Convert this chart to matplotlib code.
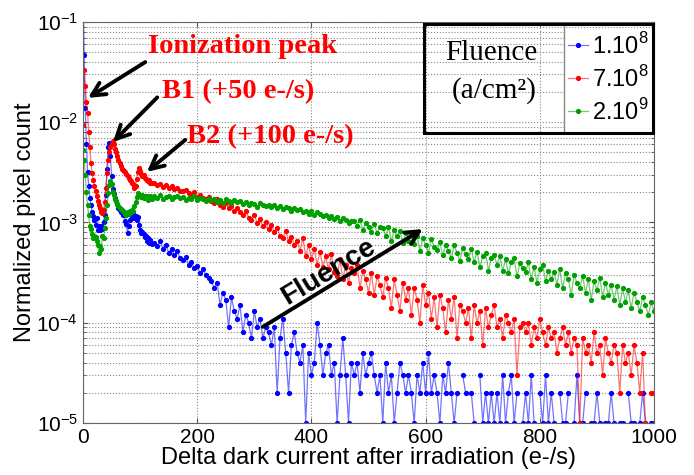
import numpy as np
import matplotlib
matplotlib.use('Agg')
from matplotlib import pyplot as plt
from matplotlib.patches import Rectangle

plt.rcParams['font.family'] = ['Liberation Sans', 'DejaVu Sans']
plt.rcParams['mathtext.fontset'] = 'custom'
plt.rcParams['mathtext.rm'] = 'Liberation Sans'

# counts are given per 1e5 pixels
SCALE = 1e-5

x_fine = np.arange(0, 121, 2)
x_coarse = np.arange(125, 1001, 5)
delta_dc = np.concatenate([x_fine, x_coarse])

labels = ['1.10$^8$', '7.10$^8$', '2.10$^9$']
colors = ['#0000ff', '#ff0000', '#00a000']

blue_fine = [
    20000, 4700, 1400, 600, 320, 230, 175, 150, 128, 115,
    106, 95, 110, 85, 92, 84, 93, 86, 102, 118,
    190, 340, 560, 620, 460, 290, 215, 194, 176, 162,
    152, 140, 133, 127, 130, 118, 121, 104, 96, 79,
    92, 106, 119, 124, 123, 110, 117, 106, 113, 94,
    84, 79, 81, 76, 71, 74, 66, 70, 63, 67,
    61]
blue_coarse = [
    62, 58, 66, 55, 60, 50, 54, 47, 52, 44,
    42, 45, 38, 40, 35, 37, 31, 34, 30, 28,
    26, 22, 25, 15, 20, 17, 9, 18, 13, 11,
    15, 8, 12, 10, 7, 13, 9, 11, 7, 9,
    8, 6, 9, 2, 7, 11, 5, 2, 6, 8,
    5, 4, 6, 1, 5, 3, 4, 10, 6, 3,
    5, 6, 3, 4, 1, 3, 7, 3, 1, 4,
    3, 4, 2, 5, 3, 4, 5, 3, 2, 3,
    1, 4, 2, 3, 1, 2, 4, 3, 2, 3,
    2, 1, 3, 2, 4, 2, 5, 2, 3, 2,
    1, 3, 2, 4, 2, 1, 2, 0, 3, 2,
    0, 2, 1, 0, 3, 1, 2, 1, 2, 1,
    2, 1, 3, 1, 2, 3, 1, 2, 0, 1,
    2, 1, 3, 1, 0, 2, 1, 3, 1, 2,
    1, 0, 2, 1, 1, 2, 0, 1, 3, 1,
    1, 2, 0, 1, 1, 2, 1, 0, 1, 1,
    2, 1, 0, 1, 1, 0, 2, 1, 1, 0,
    1, 2, 1, 0, 1, 1]

red_fine = [
    930, 3300, 2300, 1600, 1250, 800, 560, 390, 310, 265,
    230, 205, 182, 165, 150, 138, 128, 124, 132, 160,
    220, 310, 420, 510, 570, 610, 650, 600, 545, 510,
    460, 420, 390, 365, 345, 335, 325, 320, 305, 290,
    278, 268, 258, 248, 240, 222, 232, 272, 318, 352,
    330, 302, 290, 296, 276, 270, 264, 258, 263, 250,
    246]
red_coarse = [
    248, 236, 242, 228, 235, 220, 231, 214, 222, 208,
    205, 212, 196, 190, 200, 181, 188, 176, 170, 178,
    165, 158, 170, 150, 144, 155, 138, 147, 130, 141,
    126, 118, 131, 112, 105, 120, 98, 108, 92, 101,
    86, 95, 80, 88, 74, 70, 82, 66, 72, 60,
    66, 52, 70, 46, 60, 43, 55, 38, 51, 36,
    46, 34, 48, 32, 29, 43, 27, 38, 25, 35,
    31, 38, 22, 33, 27, 20, 31, 19, 29, 24,
    18, 28, 22, 14, 27, 19, 13, 25, 17, 22,
    12, 22, 17, 10, 24, 15, 20, 11, 18, 9,
    19, 14, 8, 17, 11, 18, 7, 15, 13, 10,
    14, 7, 15, 10, 13, 6, 14, 9, 12, 15,
    9, 11, 7, 12, 10, 8, 11, 3, 9, 10,
    8, 10, 6, 9, 7, 11, 8, 6, 9, 7,
    8, 5, 7, 9, 6, 8, 5, 7, 6, 1,
    7, 5, 6, 4, 8, 5, 6, 3, 7, 5,
    4, 6, 5, 2, 6, 4, 5, 3, 6, 4,
    2, 5, 1, 0, 2, 2]

green_fine = [
    530, 420, 300, 200, 150, 118, 92, 86, 76, 70,
    74, 71, 66, 60, 50, 58, 55, 74, 70, 88,
    110, 148, 195, 238, 262, 242, 200, 186, 172, 164,
    152, 146, 140, 137, 134, 131, 127, 121, 119, 126,
    121, 130, 127, 134, 129, 146, 161, 180, 195, 190,
    186, 179, 190, 177, 185, 175, 182, 169, 178, 184,
    171]
green_coarse = [
    182, 176, 188, 172, 180, 185, 170, 178, 183, 174,
    179, 168, 176, 171, 184, 166, 175, 170, 162, 173,
    168, 172, 160, 166, 158, 170, 162, 155, 167, 159,
    163, 152, 160, 149, 157, 154, 144, 158, 150, 147,
    151, 142, 148, 139, 146, 135, 143, 138, 130, 141,
    133, 137, 127, 131, 122, 129, 118, 126, 121, 115,
    120, 112, 117, 108, 114, 103, 110, 106, 99, 104,
    104, 93, 106, 84, 99, 90, 80, 97, 78, 91,
    88, 74, 90, 65, 84, 73, 82, 62, 79, 66,
    77, 61, 73, 52, 70, 60, 50, 68, 57, 53,
    64, 47, 60, 52, 44, 59, 50, 41, 56, 48,
    43, 54, 40, 51, 36, 46, 50, 33, 44, 47,
    38, 46, 33, 43, 31, 40, 44, 29, 39, 35,
    32, 40, 27, 36, 25, 34, 38, 26, 33, 27,
    32, 24, 34, 22, 31, 27, 19, 30, 25, 22,
    29, 20, 27, 17, 26, 21, 28, 18, 25, 19,
    24, 17, 23, 15, 22, 16, 21, 14, 20, 16,
    13, 18, 15, 12, 16, 13]

series = [blue_fine + blue_coarse, red_fine + red_coarse,
          green_fine + green_coarse]

fig = plt.figure(figsize=(6.94, 4.75), dpi=100)
ax = fig.add_axes([0.1196, 0.1095, 0.8228, 0.8442])

for vals, col, lab in zip(series, colors, labels):
    y = np.array(vals, dtype=float) * SCALE
    y[y <= 0] = np.nan
    rgba = matplotlib.colors.to_rgba(col, 0.55)
    ax.plot(delta_dc, y, '-', marker='.', ms=5.5, lw=0.9, color=rgba,
            mfc=col, mec=col, label=lab)

ax.set_yscale('log')
ax.set_ylim(1e-5, 1e-1)
ax.set_xlim(0, 1000)
ax.set_xticks(np.arange(0, 1001, 200))
ax.grid(True, which='major', axis='both', ls=':', color='#888888', lw=0.8)
ax.grid(True, which='minor', axis='y', ls=':', color='#888888', lw=0.8)
ax.tick_params(which='both', direction='in', top=True, right=True,
               labelsize=15, color='#555555')
for sp in ax.spines.values():
    sp.set_color('#666666')
    sp.set_linewidth(0.8)

ax.set_xlabel('Delta dark current after irradiation (e-/s)', fontsize=17,
              labelpad=0)
ax.set_ylabel('Normalized pixel count', fontsize=17, labelpad=0)

# annotations
serif = ['Liberation Serif', 'DejaVu Serif']
arrow = dict(arrowstyle='->', lw=2.8, color='black', mutation_scale=24,
             shrinkA=0, shrinkB=0)
ax.annotate('', xy=(8.8, 1.75e-2), xytext=(0.109, 0.900),
            textcoords='axes fraction', arrowprops=arrow)
ax.text(0.114, 0.938, 'Ionization peak', transform=ax.transAxes, color='red',
        fontsize=20.5, fontweight='bold', family=serif, ha='left', va='center')
ax.annotate('', xy=(52.5, 6.35e-3), xytext=(0.130, 0.812),
            textcoords='axes fraction', arrowprops=arrow)
ax.text(0.138, 0.827, 'B1 (+50 e-/s)', transform=ax.transAxes, color='red',
        fontsize=20.5, fontweight='bold', family=serif, ha='left', va='center')
ax.annotate('', xy=(112, 3.2e-3), xytext=(0.179, 0.706),
            textcoords='axes fraction', arrowprops=arrow)
ax.text(0.183, 0.715, 'B2 (+100 e-/s)', transform=ax.transAxes, color='red',
        fontsize=20.5, fontweight='bold', family=serif, ha='left', va='center')

ax.annotate('', xy=(595, 8.6e-4), xytext=(315, 9.1e-5), arrowprops=arrow)
ax.text(0.430, 0.376, 'Fluence', transform=ax.transAxes, fontsize=20,
        fontweight='bold', rotation=31, rotation_mode='anchor',
        ha='center', va='center')

# legend box
leg = ax.legend(loc='center', bbox_to_anchor=(0.842, 0.723, 0.156, 0.272),
                bbox_transform=ax.transAxes, fontsize=17, frameon=True,
                fancybox=False, edgecolor='none', framealpha=1,
                handlelength=0.85, handletextpad=0.15, labelspacing=0.3,
                borderpad=0.15, borderaxespad=0)
leg.set_zorder(9)
ax.text(0.795, 0.923, 'Fluence', transform=ax.transAxes, fontsize=21,
        family=serif, ha='right', va='center')
ax.text(0.795, 0.830, '(a/cm²)', transform=ax.transAxes, fontsize=21,
        family=serif, ha='right', va='center')
ax.plot([0.842, 0.842], [0.723, 0.995], transform=ax.transAxes,
        color='#888888', lw=1, zorder=10)
ax.add_patch(Rectangle((0.597, 0.723), 0.401, 0.272, transform=ax.transAxes,
                       fill=False, lw=2.2, ec='black', zorder=11,
                       clip_on=False))

fig.savefig('out.png', dpi=100)
